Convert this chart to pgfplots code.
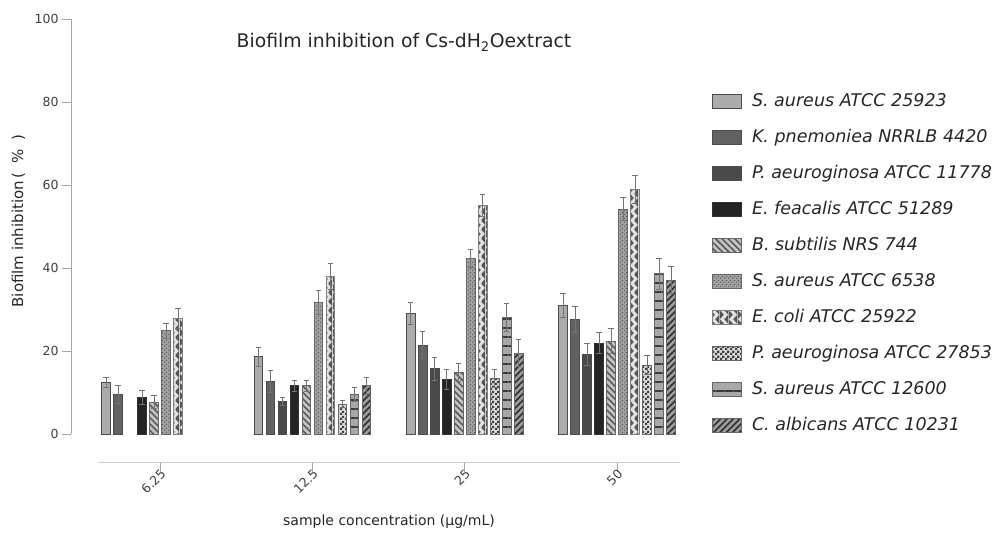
\documentclass[border=0pt]{standalone}
\usepackage{pgfplots}
\pgfplotsset{compat=1.18}
\usepackage{fontspec}
\setmainfont{DejaVu Sans}
\usetikzlibrary{patterns,patterns.meta}

\definecolor{c1}{HTML}{ABABAB}
\definecolor{c2}{HTML}{626262}
\definecolor{c3}{HTML}{4A4A4A}
\definecolor{c4}{HTML}{242424}
\definecolor{c5}{HTML}{C4C4C4}
\definecolor{c5p}{HTML}{5A5A5A}
\definecolor{c6}{HTML}{A2A2A2}
\definecolor{c6p}{HTML}{4E4E4E}
\definecolor{c7}{HTML}{E2E2E2}
\definecolor{c7p}{HTML}{555555}
\definecolor{c8}{HTML}{DADADA}
\definecolor{c8p}{HTML}{3E3E3E}
\definecolor{c9}{HTML}{A8A8A8}
\definecolor{c9p}{HTML}{3A3A3A}
\definecolor{c10}{HTML}{9C9C9C}
\definecolor{c10p}{HTML}{2E2E2E}

\pgfdeclarepatternformonly{checker}{\pgfpointorigin}{\pgfqpoint{5pt}{5pt}}{\pgfqpoint{5pt}{5pt}}{%
  \pgfpathrectangle{\pgfpointorigin}{\pgfqpoint{2.5pt}{2.5pt}}%
  \pgfpathrectangle{\pgfqpoint{2.5pt}{2.5pt}}{\pgfqpoint{2.5pt}{2.5pt}}%
  \pgfusepath{fill}}
\pgfdeclarepatternformonly{zigtri}{\pgfpointorigin}{\pgfqpoint{9pt}{9pt}}{\pgfqpoint{9pt}{9pt}}{%
  \pgfpathmoveto{\pgfqpoint{0pt}{0pt}}\pgfpathlineto{\pgfqpoint{4.2pt}{4.5pt}}\pgfpathlineto{\pgfqpoint{0pt}{9pt}}\pgfpathclose
  \pgfpathmoveto{\pgfqpoint{9pt}{-4.5pt}}\pgfpathlineto{\pgfqpoint{4.8pt}{0pt}}\pgfpathlineto{\pgfqpoint{9pt}{4.5pt}}\pgfpathclose
  \pgfpathmoveto{\pgfqpoint{9pt}{4.5pt}}\pgfpathlineto{\pgfqpoint{4.8pt}{9pt}}\pgfpathlineto{\pgfqpoint{9pt}{13.5pt}}\pgfpathclose
  \pgfusepath{fill}}
\pgfdeclarepatternformonly{smalldots}{\pgfpointorigin}{\pgfqpoint{4pt}{4pt}}{\pgfqpoint{4pt}{4pt}}{%
  \pgfpathcircle{\pgfqpoint{1pt}{1pt}}{0.8pt}%
  \pgfpathcircle{\pgfqpoint{3pt}{3pt}}{0.8pt}%
  \pgfusepath{fill}}

\begin{document}
\begin{tikzpicture}
\useasboundingbox (0pt,0pt) rectangle (1001pt,535pt);
\begin{axis}[
  at={(71pt,72pt)}, anchor=south west,
  scale only axis, width=609pt, height=444pt,
  xmin=-0.5843, xmax=3.4136, ymin=-7, ymax=100,
  axis x line*=bottom, axis y line*=left,
  axis line style={draw=none},
  xtick={0,1,2,3}, xticklabels={6.25,12.5,25,50},
  ytick={0,20,40,60,80,100},
  tick align=outside, major tick length=9pt,
  tick style={draw=black!35, line width=0.8pt},
  /pgf/number format/assume math mode=true,
  ticklabel style={font=\fontsize{12.5}{14}\selectfont, text=black!75},
  xticklabel style={rotate=45, anchor=east, xshift=6pt, yshift=-2pt},
  ybar=3.5pt, bar width=8.5pt,
  clip=false,
  legend style={at={(1.0476,0.840)}, anchor=north west, draw=none, fill=none,
    font=\itshape\fontsize{17.5}{20}\selectfont, text=black!85,
    row sep=17pt, column sep=9pt,
    nodes={inner sep=1pt, text height=13pt, text depth=4pt}},
  legend cell align=left,
  legend image code/.code={\draw[#1] (0pt,-7pt) rectangle (29pt,7pt);},
  error bars/y dir=both, error bars/y explicit,
  error bars/error bar style={line width=0.9pt, draw=black!55},
  error bars/error mark options={rotate=90, mark size=2.8pt, line width=0.9pt, draw=black!55},
]
\addplot[fill=c1, draw=black!70, line width=0.8pt] table[x=x,y=y,y error=e] {
x y e
0 12.4 1.1
1 18.6 2.3
2 29.0 2.6
3 30.9 2.9
};
\addlegendentry{S. aureus ATCC 25923}
\addplot[fill=c2, draw=black!70, line width=0.8pt] table[x=x,y=y,y error=e] {
x y e
0 9.5 2.1
1 12.6 2.7
2 21.4 3.3
3 27.6 3.1
};
\addlegendentry{K. pnemoniea NRRLB 4420}
\addplot[fill=c3, draw=black!70, line width=0.8pt] table[x=x,y=y,y error=e] {
x y e
1 7.8 1.0
2 15.7 2.7
3 19.2 2.6
};
\addlegendentry{P. aeuroginosa ATCC 11778}
\addplot[fill=c4, draw=black!80, line width=0.8pt] table[x=x,y=y,y error=e] {
x y e
0 8.9 1.7
1 11.6 1.3
2 13.1 2.4
3 21.9 2.5
};
\addlegendentry{E. feacalis ATCC 51289}
\addplot[fill=c5, draw=black!60, line width=0.8pt, postaction={pattern={Lines[angle=-45,distance=4.5pt,line width=1.6pt]}, pattern color=c5p}] table[x=x,y=y,y error=e] {
x y e
0 7.7 1.5
1 11.6 1.4
2 14.8 2.1
3 22.4 3.0
};
\addlegendentry{B. subtilis NRS 744}
\addplot[fill=c6, draw=black!60, line width=0.8pt, postaction={pattern=smalldots, pattern color=c6p}] table[x=x,y=y,y error=e] {
x y e
0 24.9 1.8
1 31.7 3.0
2 42.3 2.2
3 54.2 2.8
};
\addlegendentry{S. aureus ATCC 6538}
\addplot[fill=c7, draw=black!50, line width=0.8pt, postaction={pattern=zigtri, pattern color=c7p}] table[x=x,y=y,y error=e] {
x y e
0 27.9 2.4
1 38.0 3.1
2 55.0 2.7
3 59.0 3.4
};
\addlegendentry{E. coli ATCC 25922}
\addplot[fill=c8, draw=black!60, line width=0.8pt, postaction={pattern=checker, pattern color=c8p}] table[x=x,y=y,y error=e] {
x y e
1 7.2 0.9
2 13.4 2.2
3 16.6 2.3
};
\addlegendentry{P. aeuroginosa ATCC 27853}
\addplot[fill=c9, draw=black!60, line width=0.8pt, postaction={pattern={Lines[angle=0,distance=9pt,line width=1.8pt]}, pattern color=c9p}] table[x=x,y=y,y error=e] {
x y e
1 9.6 1.7
2 28.0 3.4
3 38.6 3.7
};
\addlegendentry{S. aureus ATCC 12600}
\addplot[fill=c10, draw=black!60, line width=0.8pt, postaction={pattern={Lines[angle=45,distance=4.5pt,line width=1.6pt]}, pattern color=c10p}] table[x=x,y=y,y error=e] {
x y e
1 11.6 2.1
2 19.5 3.3
3 37.1 3.3
};
\addlegendentry{C. albicans ATCC 10231}
\draw[black!20, line width=1pt] (axis cs:-0.41,-7) -- (axis cs:3.4136,-7);
\draw[black!35, line width=0.8pt] (axis cs:-0.5843,0) -- (axis cs:-0.5843,100);
\end{axis}
\node[font=\fontsize{18.8}{22}\selectfont, text=black!85] at (404pt,493pt) {Biofilm inhibition of Cs-dH\textsubscript{2}Oextract};
\node[font=\fontsize{15}{17}\selectfont, text=black!85, rotate=90] at (18.5pt,314pt) {Biofilm inhibition\,(\hspace{9pt}\%\hspace{9pt})};
\node[font=\fontsize{14}{16}\selectfont, text=black!85] at (389pt,13pt) {sample concentration (µg/mL)};
\end{tikzpicture}
\end{document}
